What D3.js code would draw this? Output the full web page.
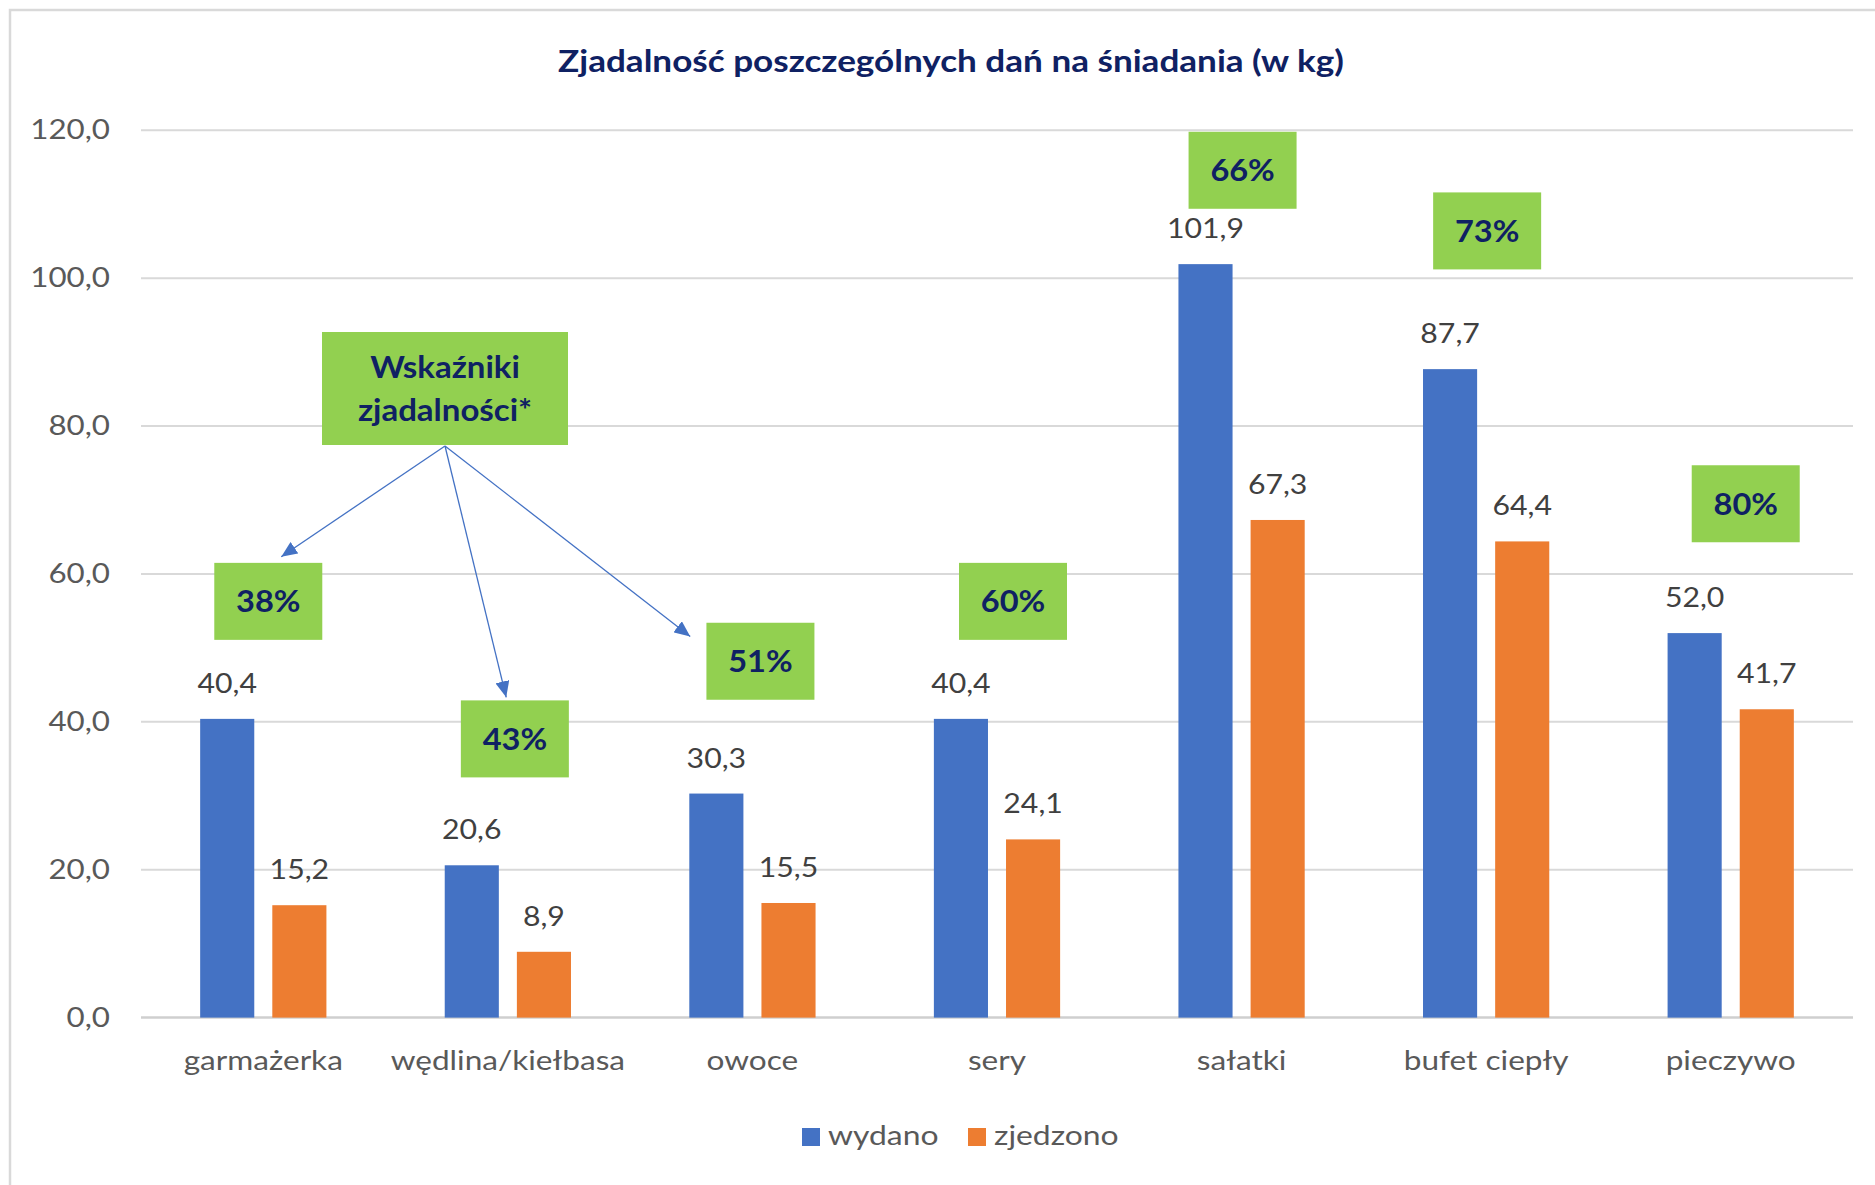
<!DOCTYPE html>
<html>
<head>
<meta charset="utf-8">
<script src="https://cdn.jsdelivr.net/npm/d3@7"></script>
<style>
	body { margin: 0; background: #fff; }
	svg { display: block; font-family: Lato, 'Noto Sans', sans-serif; }
</style>
</head>
<body>
<svg id="chart" width="1875" height="1185"></svg>
<script>
// data
const categories = ['garmażerka', 'wędlina/kiełbasa', 'owoce', 'sery', 'sałatki', 'bufet ciepły', 'pieczywo']
const seriesNames = ['wydano', 'zjedzono']
const wydano = [40.4, 20.6, 30.3, 40.4, 101.9, 87.7, 52.0]
const zjedzono = [15.2, 8.9, 15.5, 24.1, 67.3, 64.4, 41.7]
const ratios = ['38%', '43%', '51%', '60%', '66%', '73%', '80%']
const yTicks = [0, 20, 40, 60, 80, 100, 120]

// annotation placement (box top in axis units, x shift in px)
const boxTop = [61.5, 42.9, 53.4, 61.5, 119.8, 111.6, 74.7]
const boxShift = [5, 7, 8, 16, 1, 1, 15]

const colors = { wydano: '#4472C4', zjedzono: '#ED7D31' }
const navy = '#0F2163'
const green = '#92D050'
const fmt = (v) => v.toFixed(1).replace('.', ',')

// the source picture is a bit wider than tall, so text gets stretched
const STRETCH = 1.16

// text placed at (x,y) and widened horizontally
const addText = (parent, x, y, k = STRETCH) => parent.append('text')
	.attr('transform', `translate(${x},${y}) scale(${k},1)`)

const svg = d3.select('#chart')

// outer frame
svg.append('rect')
	.attr('x', 10).attr('y', 10)
	.attr('width', 1900).attr('height', 1200)
	.attr('fill', 'none')
	.attr('stroke', '#D9D9D9')
	.attr('stroke-width', 2.5)

// scales
const y = d3.scaleLinear().domain([0, 120]).range([1017.6, 130.3])
const x0 = d3.scaleBand().domain(categories).range([141, 1853])
const x1 = d3.scaleBand().domain(seriesNames).range([0, x0.bandwidth()])
	.paddingInner(0.25).paddingOuter(0.82)

// title
addText(svg, 951, 72, 1.17)
	.attr('text-anchor', 'middle')
	.attr('fill', navy)
	.attr('font-weight', 700)
	.attr('font-size', 30)
	.text('Zjadalność poszczególnych dań na śniadania (w kg)')

// grid + y axis
const yAxis = d3.axisLeft(y).tickValues(yTicks).tickSize(0).tickPadding(0).tickFormat(fmt)
const gy = svg.append('g').attr('transform', 'translate(110,0)').call(yAxis)
gy.select('.domain').remove()
gy.selectAll('text')
	.attr('font-size', 27)
	.attr('font-family', 'Lato, sans-serif')
	.attr('fill', '#595959')
	.attr('transform', `scale(${STRETCH},1)`)

svg.append('g')
	.selectAll('line')
	.data(yTicks)
	.join('line')
	.attr('x1', 141).attr('x2', 1853)
	.attr('y1', (d) => y(d)).attr('y2', (d) => y(d))
	.attr('stroke', (d) => d === 0 ? '#CFCFCF' : '#D9D9D9')
	.attr('stroke-width', (d) => d === 0 ? 2.5 : 2)

// bars
const rows = categories.map((c, i) => ({ cat: c, wydano: wydano[i], zjedzono: zjedzono[i] }))
const groups = svg.append('g')
	.selectAll('g')
	.data(rows)
	.join('g')
	.attr('transform', (d) => `translate(${x0(d.cat)},0)`)

groups.selectAll('rect')
	.data((d) => seriesNames.map((k) => ({ key: k, value: d[k] })))
	.join('rect')
	.attr('x', (d) => x1(d.key))
	.attr('width', x1.bandwidth())
	.attr('y', (d) => y(d.value))
	.attr('height', (d) => y(0) - y(d.value))
	.attr('fill', (d) => colors[d.key])

groups.selectAll('text.val')
	.data((d) => seriesNames.map((k) => ({ key: k, value: d[k] })))
	.join('text')
	.attr('class', 'val')
	.attr('transform', (d) => `translate(${x1(d.key) + x1.bandwidth() / 2},${y(d.value) - 26}) scale(1.12,1)`)
	.attr('text-anchor', 'middle')
	.attr('font-size', 27)
	.attr('fill', '#404040')
	.text((d) => fmt(d.value))

// x axis labels
const xAxis = d3.axisBottom(x0).tickSize(0).tickPadding(0)
const gx = svg.append('g').attr('transform', 'translate(0,1070)').call(xAxis)
gx.select('.domain').remove()
gx.selectAll('text')
	.attr('dy', 0)
	.attr('font-size', 27)
	.attr('font-family', 'Lato, sans-serif')
	.attr('fill', '#595959')
	.attr('transform', `scale(1.17,1)`)

// ratio boxes
const boxW = 108
const boxH = 77
const boxes = categories.map((c, i) => ({
	x: x0(c) + x0.bandwidth() / 2 + boxShift[i] - boxW / 2,
	y: y(boxTop[i]),
	label: ratios[i]
}))

const gb = svg.append('g')
	.selectAll('g')
	.data(boxes)
	.join('g')
	.attr('transform', (d) => `translate(${d.x},${d.y})`)
gb.append('rect')
	.attr('width', boxW).attr('height', boxH)
	.attr('fill', green)
gb.append('text')
	.attr('transform', `translate(${boxW / 2},${boxH / 2 + 11}) scale(1.05,1)`)
	.attr('text-anchor', 'middle')
	.attr('font-size', 31)
	.attr('font-weight', 700)
	.attr('fill', navy)
	.text((d) => d.label)

// key box "Wskaźniki zjadalności*"
const key = { x: 322, y: 332, w: 246, h: 113 }
svg.append('rect')
	.attr('x', key.x).attr('y', key.y)
	.attr('width', key.w).attr('height', key.h)
	.attr('fill', green)
const keyText = addText(svg, key.x + key.w / 2, 0, 1.1)
	.attr('text-anchor', 'middle')
	.attr('font-size', 30)
	.attr('font-weight', 700)
	.attr('fill', navy)
keyText.append('tspan').attr('x', 0).attr('y', 378).text('Wskaźniki')
keyText.append('tspan').attr('x', 0).attr('y', 421).text('zjadalności*')

// arrows
svg.append('defs').append('marker')
	.attr('id', 'arrow')
	.attr('viewBox', '0 0 10 10')
	.attr('refX', 10).attr('refY', 5)
	.attr('markerWidth', 16).attr('markerHeight', 14)
	.attr('markerUnits', 'userSpaceOnUse')
	.attr('orient', 'auto')
	.attr('preserveAspectRatio', 'none')
	.append('path')
	.attr('d', 'M0,0 L10,5 L0,10 Z')
	.attr('fill', '#4472C4')

const arrowTargets = [
	{ box: 0, fx: 0.62, fy: -0.08 },
	{ box: 1, fx: 0.42, fy: -0.04 },
	{ box: 2, fx: -0.15, fy: 0.18 }
]
svg.append('g')
	.selectAll('line')
	.data(arrowTargets)
	.join('line')
	.attr('x1', key.x + key.w / 2)
	.attr('y1', key.y + key.h + 1)
	.attr('x2', (d) => boxes[d.box].x + d.fx * boxW)
	.attr('y2', (d) => boxes[d.box].y + d.fy * boxH)
	.attr('stroke', '#4472C4')
	.attr('stroke-width', 1.3)
	.attr('marker-end', 'url(#arrow)')

// legend
const legend = svg.append('g').attr('transform', 'translate(802,1128)')
const legendX = [0, 166]
const li = legend.selectAll('g')
	.data(seriesNames)
	.join('g')
	.attr('transform', (d, i) => `translate(${legendX[i]},0)`)
li.append('rect')
	.attr('width', 18).attr('height', 18)
	.attr('fill', (d) => colors[d])
li.append('text')
	.attr('transform', `translate(26,17) scale(1.18,1)`)
	.attr('font-size', 27)
	.attr('fill', '#595959')
	.text((d) => d)
</script>
</body>
</html>
